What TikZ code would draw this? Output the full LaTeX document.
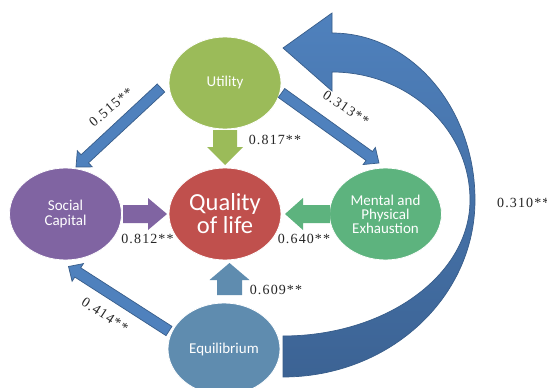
\documentclass[tikz,border=0pt]{standalone}
\usepackage{fontspec}
\setmainfont{Liberation Serif}
\newfontfamily\lblfont{Carlito}
\newfontfamily\numfont[LetterSpace=8]{Liberation Serif}
\usetikzlibrary{calc,shapes.geometric}

\definecolor{utilc}{HTML}{9BBB59}
\definecolor{qolc}{HTML}{C0504D}
\definecolor{socc}{HTML}{8064A2}
\definecolor{menc}{HTML}{5DB37E}
\definecolor{equc}{HTML}{5F8CAF}
\definecolor{linkc}{HTML}{4F81BD}
\definecolor{linkline}{HTML}{385D8A}
\definecolor{bigtop}{HTML}{4F81BD}
\definecolor{bigbot}{HTML}{3C6394}
\definecolor{numc}{HTML}{262626}

% block arrow: style, tail, tip, shaft half width, head half width, head length
\newcommand\blockarrow[6]{%
  \coordinate (ba-h) at ($(#3)!#6!(#2)$);
  \path[#1] ($(#2)!#4!90:(#3)$) -- ($(ba-h)!#4!90:(#3)$) -- ($(ba-h)!#5!90:(#3)$)
    -- (#3) -- ($(ba-h)!#5!-90:(#3)$) -- ($(ba-h)!#4!-90:(#3)$)
    -- ($(#2)!#4!-90:(#3)$) -- cycle;
}

\begin{document}
\begin{tikzpicture}[x=1pt,y=-1pt,
  bubble/.style={ellipse, minimum width=112pt, minimum height=92pt, inner sep=0pt,
    draw=white, line width=0.8pt, text=white, align=center,
    font=\lblfont\fontsize{15}{14}\selectfont},
  num/.style={font=\numfont\fontsize{14}{14}\selectfont, text=numc, inner sep=0pt},
  link/.style={fill=linkc, draw=linkline, line width=0.7pt, line join=miter},
  bigarrow/.style={top color=bigtop, bottom color=bigbot, draw=linkline, line width=0.7pt}]

\clip (0,0) rectangle (547,388);
\fill[white] (0,0) rectangle (547,388);

% feedback arrow from Equilibrium back to Utility
\path[bigarrow] (332,33) .. controls (411,33) and (475,108) .. (475,200)
  .. controls (475,298) and (389,377) .. (283,377) -- (283,336)
  .. controls (386,336) and (470,275) .. (470,200)
  .. controls (470,129) and (408,72) .. (332,72)
  -- (332,91) -- (283,48) -- (332,13) -- cycle;

% variables
\node[bubble, fill=utilc] (ut) at (225,83) {Utility};
\node[bubble, fill=qolc, font=\lblfont\fontsize{24.5}{23}\selectfont] (qol) at (225,214) {Quality\\of life};
\node[bubble, fill=socc] (sc) at (65.5,214) {Social\\Capital};
\node[bubble, fill=menc] (me) at (385.5,214) {Mental and\\Physical\\Exhaustion};
\node[bubble, fill=equc] (eq) at (224,349) {Equilibrium};

% connector end points
\coordinate (ut-sc-a) at (161,88);  \coordinate (ut-sc-b) at (76,167);
\coordinate (ut-me-a) at (281.5,93); \coordinate (ut-me-b) at (379,163);
\coordinate (eq-sc-a) at (169,331); \coordinate (eq-sc-b) at (68.5,266.5);
\coordinate (ut-q-a) at (225,130);  \coordinate (ut-q-b) at (225,165);
\coordinate (sc-q-a) at (123,214);  \coordinate (sc-q-b) at (167,214);
\coordinate (me-q-a) at (330,214);  \coordinate (me-q-b) at (285,214);
\coordinate (eq-q-a) at (229.5,295); \coordinate (eq-q-b) at (229.5,263);

% diagonal links
\blockarrow{link}{ut-sc-a}{ut-sc-b}{5.5pt}{11pt}{12pt}
\blockarrow{link}{ut-me-a}{ut-me-b}{5.5pt}{10.5pt}{12pt}
\blockarrow{link}{eq-sc-a}{eq-sc-b}{5.5pt}{10.5pt}{11pt}

% direct effects on quality of life
\blockarrow{fill=utilc}{ut-q-a}{ut-q-b}{12pt}{18pt}{18pt}
\blockarrow{fill=socc}{sc-q-a}{sc-q-b}{9pt}{16pt}{19pt}
\blockarrow{fill=menc}{me-q-a}{me-q-b}{9pt}{16pt}{18pt}
\blockarrow{fill=equc}{eq-q-a}{eq-q-b}{12.5pt}{20pt}{17pt}

% coefficients
\node[num, rotate=40] (l515) at (111,107) {0.515**};
\node[num, rotate=-34] (l313) at (346,108) {0.313**};
\node[num, rotate=-33] (l414) at (105,315) {0.414**};
\node[num] (l817) at (275,140) {0.817**};
\node[num] (l812) at (147.5,239) {0.812**};
\node[num] (l640) at (304,239) {0.640**};
\node[num] (l609) at (276,290) {0.609**};
\node[num, anchor=west] (l310) at (497,203) {0.310**};

\end{tikzpicture}
\end{document}
